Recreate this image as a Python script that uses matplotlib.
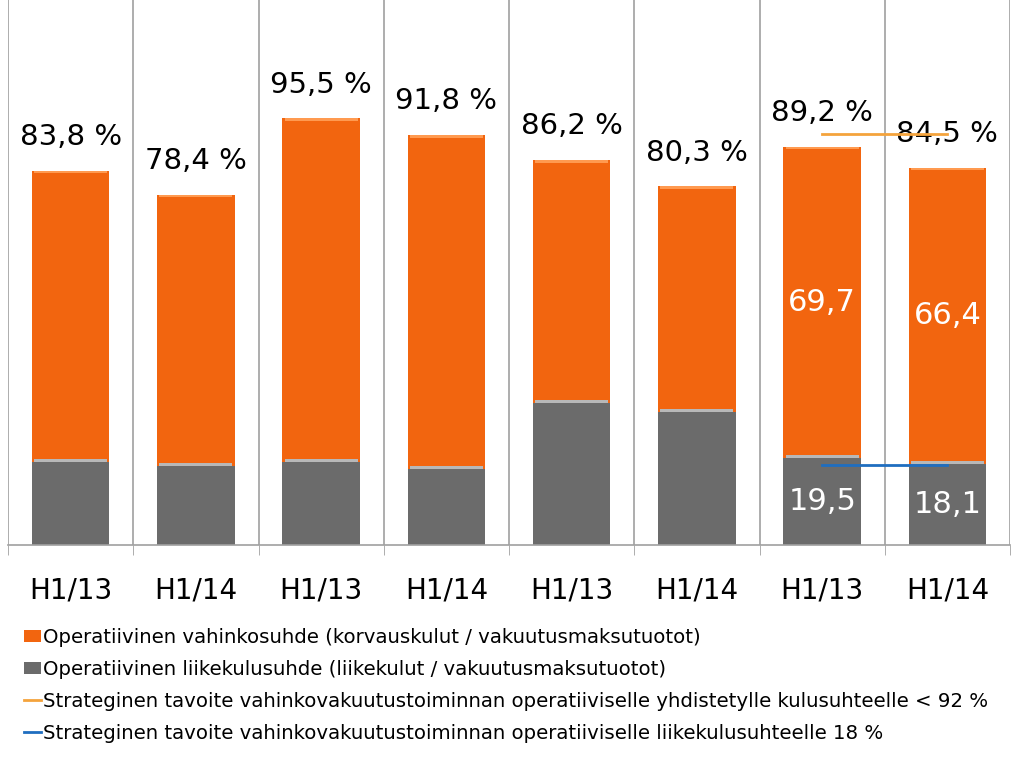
import numpy as np
import matplotlib
matplotlib.use('Agg')
import matplotlib.pyplot as plt
from matplotlib.patches import Patch
from matplotlib.lines import Line2D

categories = ['H1/13', 'H1/14', 'H1/13', 'H1/14', 'H1/13', 'H1/14', 'H1/13', 'H1/14']
totals = [83.8, 78.4, 95.5, 91.8, 86.2, 80.3, 89.2, 84.5]
expense = [18.6, 17.7, 18.6, 17.0, 31.8, 29.8, 19.5, 18.1]   # gray part
total_labels = ['83,8 %', '78,4 %', '95,5 %', '91,8 %', '86,2 %', '80,3 %', '89,2 %', '84,5 %']
inner_labels = {6: ('69,7', '19,5'), 7: ('66,4', '18,1')}
target_combined = 92
target_expense = 18
legend_labels = [
    'Operatiivinen vahinkosuhde (korvauskulut / vakuutusmaksutuotot)',
    'Operatiivinen liikekulusuhde (liikekulut / vakuutusmaksutuotot)',
    'Strateginen tavoite vahinkovakuutustoiminnan operatiiviselle yhdistetylle kulusuhteelle < 92 %',
    'Strateginen tavoite vahinkovakuutustoiminnan operatiiviselle liikekulusuhteelle 18 %',
]

orange = '#F2650F'
gray = '#6B6B6B'
line_orange = '#F4A33C'
line_blue = '#1F6EC0'

loss = [t - e for t, e in zip(totals, expense)]
x = np.arange(len(categories))

fig = plt.figure(figsize=(10.24, 7.63), dpi=100)
ax = fig.add_axes([8 / 1024, 1 - 545 / 763, 1002 / 1024, 545 / 763])

w = 0.62
ax.bar(x, expense, width=w, color=gray, zorder=2)
ax.bar(x, loss, width=w, bottom=expense, color=orange, zorder=2)
# light bevel at top of each segment
ax.bar(x, [0.6] * len(x), width=w * 0.94, bottom=expense, color='#B8B8B8', zorder=3)
ax.bar(x, [0.6] * len(x), width=w * 0.94, bottom=[t - 0.6 for t in totals], color='#FF9A50', zorder=3)

for i, t in enumerate(totals):
    ax.annotate(total_labels[i], (x[i], t), xytext=(0, 14), textcoords='offset points',
                ha='center', va='bottom', fontsize=21, color='black')

for i, (lo, ex) in inner_labels.items():
    ax.text(x[i], expense[i] + (totals[i] - expense[i]) / 2, lo, ha='center', va='center',
            fontsize=22, color='white', zorder=4)
    ax.text(x[i], expense[i] / 2, ex, ha='center', va='center',
            fontsize=22, color='white', zorder=4)

ax.plot([x[6], x[7]], [target_combined] * 2, color=line_orange, lw=2, zorder=4)
ax.plot([x[6], x[7]], [target_expense] * 2, color=line_blue, lw=2, zorder=4)

ax.set_xlim(-0.5, len(x) - 0.5)
ax.set_ylim(0, 122)
ax.set_xticks(x)
ax.set_xticklabels(categories, fontsize=20)
ax.tick_params(axis='x', which='major', length=0, pad=23)
ax.set_xticks(np.arange(-0.5, len(x)), minor=True)
ax.tick_params(axis='x', which='minor', length=7, color='#A0A0A0', direction='out')
ax.grid(axis='x', which='minor', color='#A0A0A0', lw=1.2, zorder=0)
ax.set_yticks([])
for s in ['top', 'right', 'left']:
    ax.spines[s].set_visible(False)
ax.spines['bottom'].set_color('#A0A0A0')
ax.spines['bottom'].set_linewidth(1.2)

handles = [Patch(facecolor=orange), Patch(facecolor=gray),
           Line2D([], [], color=line_orange, lw=2), Line2D([], [], color=line_blue, lw=2)]
fig.legend(handles, legend_labels, loc='upper left', bbox_to_anchor=(24 / 1024, 1 - 628 / 763),
           frameon=False, fontsize=14.2, handlelength=0.85, handleheight=0.6, handletextpad=0.1,
           labelspacing=0.66, borderpad=0, borderaxespad=0)

fig.savefig('out.png', dpi=100)
